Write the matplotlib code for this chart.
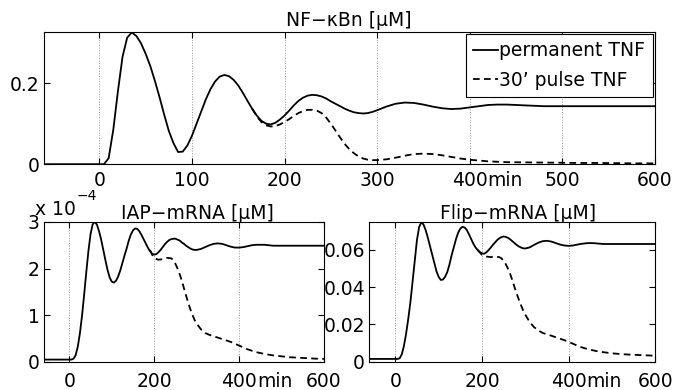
import matplotlib
matplotlib.use("Agg")
import matplotlib.pyplot as plt

plt.rcParams['font.family'] = ['DejaVu Sans']
plt.rcParams['font.size'] = 13.5

# time axis (min) shared by all permanent-stimulation curves
t_perm = [-60, 0, 5, 10, 15, 20, 25, 30, 35, 40, 45, 50, 55, 60, 65, 70, 75, 80, 85, 90,
          95, 100, 105, 110, 115, 120, 125, 130, 135, 140, 145, 150, 155, 160, 165, 170,
          175, 180, 185, 190, 195, 200, 205, 210, 215, 220, 225, 230, 235, 240, 245, 250,
          255, 260, 265, 270, 275, 280, 285, 290, 295, 300, 310, 320, 330, 340, 350, 360,
          370, 380, 390, 400, 410, 420, 430, 440, 450, 460, 470, 480, 500, 520, 540, 560,
          580, 600]

nfkb_perm = [0, 0, 0, 0.015, 0.085, 0.18, 0.265, 0.312, 0.325, 0.316, 0.298, 0.272, 0.242,
             0.205, 0.165, 0.122, 0.082, 0.052, 0.030, 0.031, 0.046, 0.07, 0.1, 0.13, 0.16,
             0.185, 0.204, 0.216, 0.22, 0.217, 0.208, 0.194, 0.176, 0.156, 0.137, 0.12,
             0.107, 0.1, 0.098, 0.102, 0.11, 0.12, 0.132, 0.145, 0.156, 0.164, 0.169, 0.171,
             0.17, 0.167, 0.162, 0.155, 0.149, 0.143, 0.137, 0.132, 0.128, 0.126, 0.125,
             0.126, 0.129, 0.133, 0.142, 0.149, 0.152, 0.151, 0.147, 0.142, 0.138, 0.136,
             0.137, 0.14, 0.143, 0.146, 0.147, 0.147, 0.146, 0.145, 0.144, 0.143, 0.143,
             0.143, 0.143, 0.143, 0.143, 0.143]

# IAP-mRNA in units of 1e-4 uM
iap_perm = [0.05, 0.05, 0.05, 0.07, 0.15, 0.33, 0.62, 1.0, 1.45, 1.93, 2.38, 2.74, 2.95,
            3.0, 2.94, 2.8, 2.62, 2.4, 2.18, 1.97, 1.81, 1.72, 1.70, 1.74, 1.83, 1.96, 2.12,
            2.28, 2.43, 2.6, 2.73, 2.82, 2.86, 2.85, 2.8, 2.72, 2.63, 2.54, 2.45, 2.37,
            2.32, 2.3, 2.31, 2.35, 2.4, 2.46, 2.52, 2.57, 2.61, 2.63, 2.64, 2.64, 2.62,
            2.6, 2.56, 2.53, 2.49, 2.46, 2.43, 2.41, 2.4, 2.4, 2.42, 2.46, 2.5, 2.53, 2.54,
            2.53, 2.5, 2.47, 2.45, 2.45, 2.46, 2.48, 2.5, 2.51, 2.51, 2.51, 2.5, 2.49, 2.49,
            2.49, 2.49, 2.49, 2.49, 2.49]

flip_perm = [0.0016, 0.0016, 0.0016, 0.0019, 0.004, 0.0085, 0.015, 0.023, 0.032, 0.043,
             0.054, 0.065, 0.072, 0.0745, 0.0735, 0.0705, 0.0665, 0.062, 0.0575, 0.053,
             0.0485, 0.0455, 0.0438, 0.0440, 0.0455, 0.048, 0.052, 0.057, 0.0612, 0.0655,
             0.069, 0.0712, 0.0722, 0.0718, 0.0705, 0.0682, 0.0657, 0.0632, 0.0612, 0.0598,
             0.0587, 0.058, 0.0578, 0.0585, 0.0597, 0.061, 0.0625, 0.0638, 0.0651, 0.066,
             0.0667, 0.067, 0.0668, 0.0663, 0.0655, 0.0645, 0.0635, 0.0625, 0.0617, 0.0611,
             0.0607, 0.0606, 0.0612, 0.0625, 0.0637, 0.0645, 0.0647, 0.0643, 0.0635, 0.0627,
             0.0622, 0.062, 0.0622, 0.0627, 0.0631, 0.0634, 0.0635, 0.0634, 0.0632, 0.063,
             0.063, 0.063, 0.063, 0.063, 0.063, 0.063]

# 30' pulse: only the part after it departs from the permanent curve
t_pulse_nf = [165, 170, 175, 180, 185, 190, 195, 200, 205, 210, 215, 220, 225, 230, 235,
              240, 245, 250, 255, 260, 265, 270, 275, 280, 285, 290, 295, 300, 310, 320,
              330, 340, 350, 360, 370, 380, 390, 400, 410, 420, 430, 440, 460, 480, 500,
              520, 540, 560, 580, 600]
nfkb_pulse = [0.137, 0.118, 0.104, 0.096, 0.093, 0.094, 0.098, 0.104, 0.111, 0.119, 0.126,
              0.131, 0.134, 0.134, 0.132, 0.126, 0.115, 0.1, 0.083, 0.066, 0.05, 0.037,
              0.027, 0.019, 0.014, 0.011, 0.01, 0.01, 0.012, 0.016, 0.021, 0.025, 0.026,
              0.025, 0.022, 0.018, 0.014, 0.011, 0.009, 0.007, 0.006, 0.005, 0.0045, 0.004,
              0.0035, 0.003, 0.003, 0.0025, 0.002, 0.002]

t_pulse_mrna = [190, 195, 200, 210, 220, 230, 240, 245, 250, 255, 260, 265, 270, 275, 280,
                285, 290, 295, 300, 310, 320, 330, 340, 350, 360, 370, 380, 390, 400, 410,
                420, 430, 440, 450, 460, 470, 480, 500, 520, 540, 560, 580, 600]
iap_pulse = [2.40, 2.30, 2.22, 2.19, 2.20, 2.23, 2.22, 2.18, 2.10, 2.00, 1.88, 1.74, 1.58,
             1.42, 1.27, 1.13, 1.01, 0.90, 0.82, 0.70, 0.62, 0.58, 0.55, 0.52, 0.49, 0.46,
             0.43, 0.39, 0.35, 0.31, 0.27, 0.24, 0.21, 0.19, 0.17, 0.155, 0.14, 0.12, 0.10,
             0.09, 0.08, 0.07, 0.065]
flip_pulse = [0.0598, 0.0585, 0.0572, 0.0563, 0.0560, 0.0562, 0.0560, 0.0553, 0.054,
              0.0522, 0.0498, 0.0470, 0.0437, 0.0400, 0.0365, 0.0333, 0.0303, 0.0275,
              0.0252, 0.0213, 0.0186, 0.0168, 0.0155, 0.0147, 0.0140, 0.0132, 0.0124,
              0.0116, 0.0107, 0.0097, 0.0087, 0.0078, 0.0071, 0.0065, 0.0060, 0.0055,
              0.0052, 0.0046, 0.0042, 0.0039, 0.0037, 0.0035, 0.0033]

LW = 1.3
DASH = (3.7, 2.4)


def style_axes(ax, xticks, yticks, ylabels, ylim, xpad):
    ax.set_xlim(-60, 600)
    ax.set_ylim(*ylim)
    ax.set_xticks(xticks)
    ax.set_xticklabels([str(x) for x in xticks])
    ax.set_yticks(yticks)
    ax.set_yticklabels(ylabels)
    ax.tick_params(direction='in', length=4, width=0.8, top=True, right=True)
    ax.tick_params(axis='x', pad=xpad)
    ax.tick_params(axis='y', pad=3)
    for s in ax.spines.values():
        s.set_linewidth(0.8)
    ax.grid(axis='x', linestyle=':', color='#999999', linewidth=0.7)
    ax.set_axisbelow(True)
    # unit next to the 400 tick label
    ax.annotate('min', xy=(400, 0), xycoords=('data', 'axes fraction'),
                xytext=(12.9, -xpad), textcoords='offset points',
                ha='left', va='top')


fig = plt.figure(figsize=(6.75, 3.9), dpi=100)

ax1 = fig.add_axes([0.065, 0.579, 0.905, 0.339])
ax1.plot(t_pulse_nf, nfkb_pulse, color='k', lw=LW, dashes=DASH, label="30\u2019 pulse TNF")
ax1.plot(t_perm, nfkb_perm, color='k', lw=LW, label='permanent TNF')
style_axes(ax1, [0, 100, 200, 300, 400, 500, 600], [0, 0.2], ['0', '0.2'], (0, 0.326), 5)
ax1.set_title('NF\u2212\u03baBn [\u03bcM]', fontsize=13.5, pad=4)
h, l = ax1.get_legend_handles_labels()
leg = ax1.legend(h[::-1], l[::-1], loc='upper right', fontsize=13.5, handlelength=1.35,
                 handletextpad=0.05, borderpad=0.4, labelspacing=0.55, borderaxespad=0.1,
                 fancybox=False, framealpha=1, edgecolor='k')
leg.get_frame().set_linewidth(0.8)

ax2 = fig.add_axes([0.065, 0.072, 0.415, 0.359])
ax2.plot(t_pulse_mrna, iap_pulse, color='k', lw=LW, dashes=DASH)
ax2.plot(t_perm, iap_perm, color='k', lw=LW)
style_axes(ax2, [0, 200, 400, 600], [0, 1, 2, 3], ['0', '1', '2', '3'], (0, 3.0), 7)
ax2.set_title('IAP\u2212mRNA [\u03bcM]', fontsize=13.5, pad=2, x=0.548)
# exponent of the IAP scale
fig.text(35 / 675, 1 - 215 / 390, 'x 10', fontsize=13.5, va='baseline')
fig.text(77 / 675, 1 - 200 / 390, '\u22124', fontsize=10, va='baseline')

ax3 = fig.add_axes([0.547, 0.072, 0.424, 0.359])
ax3.plot(t_pulse_mrna, flip_pulse, color='k', lw=LW, dashes=DASH)
ax3.plot(t_perm, flip_perm, color='k', lw=LW)
style_axes(ax3, [0, 200, 400, 600], [0, 0.02, 0.04, 0.06], ['0', '0.02', '0.04', '0.06'],
           (0, 0.0748), 7)
ax3.set_title('Flip\u2212mRNA [\u03bcM]', fontsize=13.5, pad=2, x=0.52)

fig.savefig('out.png', dpi=100)
